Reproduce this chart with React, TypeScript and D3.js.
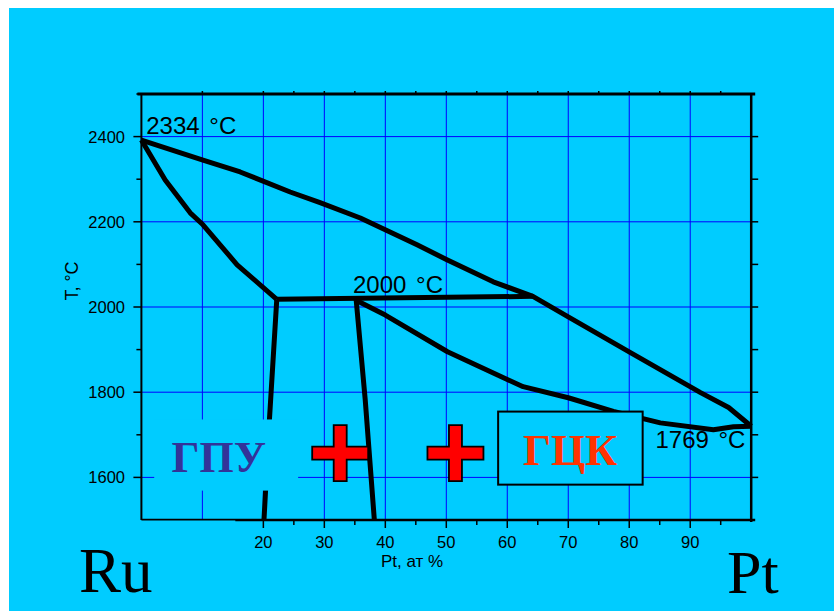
import React from "react";
import * as d3 from "d3";

// Phase boundaries (Pt at.% , T °C)
const liquidusX = [0, 10.1, 16.2, 24.4, 29.3, 35.9, 45.2, 50.1, 57.7, 64.2, 70, 80.2, 91.7, 96.3, 100];
const liquidusT = [2392, 2345, 2317, 2270, 2245, 2209, 2146, 2111, 2059, 2025, 1977, 1893, 1799, 1764, 1720];
const hcpSolidusX = [0, 3.9, 8, 10.1, 15.7, 22.2];
const hcpSolidusT = [2392, 2298, 2221, 2193, 2099, 2018];
const peritecticX = [22.2, 64.2];
const peritecticT = [2018, 2025];
const hcpSolvusX = [22.2, 21.0, 20.1];
const hcpSolvusT = [2018, 1736, 1500];
const fccSolvusX = [35.2, 36.7, 38.2];
const fccSolvusT = [2020, 1783, 1500];
const fccSolidusX = [35.2, 40, 50.2, 60, 62.6, 70, 77.4, 85.1, 93.8, 97.1, 100];
const fccSolidusT = [2016, 1981, 1895, 1830, 1813, 1787, 1755, 1728, 1712, 1719, 1720];

const xTickLabels = [20, 30, 40, 50, 60, 70, 80, 90];
const xMinorTicks = [25, 35, 45, 55, 65, 75, 85, 95];
const xGrid = [10, 20, 30, 40, 50, 60, 70, 80, 90];
const yTickLabels = [1600, 1800, 2000, 2200, 2400];
const yMinorTicks = [1700, 1900, 2100, 2300];

const annotations = [
  { text: "2334 °C", x: 0.8, t: 2405 },
  { text: "2000 °C", x: 34.7, t: 2032 },
  { text: "1769 °C", x: 84.3, t: 1669 },
];

const BG = "#00CCFF";

export default function App() {
  const W = 834, H = 611;
  const x = d3.scaleLinear().domain([0, 100]).range([141.4, 751.2]);
  const y = d3.scaleLinear().domain([1500, 2500]).range([520, 94]);

  const mk = (xs: number[], ts: number[]) =>
    d3.line<number>().x((_, i) => x(xs[i])).y((_, i) => y(ts[i]))(xs.map((_, i) => i)) || "";

  const curves = [
    mk(liquidusX, liquidusT),
    mk(hcpSolidusX, hcpSolidusT),
    mk(peritecticX, peritecticT),
    mk(hcpSolvusX, hcpSolvusT),
    mk(fccSolvusX, fccSolvusT),
    mk(fccSolidusX, fccSolidusT),
  ];

  const [x0, x1] = x.range();
  const yTop = y(2500), yBot = y(1500);

  const cross = (cx: number, ct: number) => {
    const px = x(cx), py = y(ct);
    const a = 28, w = 6.5;
    const pts = [
      [-w, -a], [w, -a], [w, -w], [a, -w], [a, w], [w, w], [w, a], [-w, a], [-w, w], [-a, w], [-a, -w], [-w, -w],
    ].map(([dx, dy]) => `${px + dx},${py + dy}`).join(" ");
    return <polygon points={pts} fill="#FF0000" stroke="#000" strokeWidth={1.8} />;
  };

  const font = "'Liberation Sans', Arial, sans-serif";
  const serif = "'Liberation Serif', 'Times New Roman', serif";

  return (
    <svg width={W} height={H} style={{ position: "absolute", left: 0, top: 0, display: "block" }}>
      <rect x={0} y={0} width={W} height={H} fill="#fff" />
      <rect x={9} y={8} width={W - 9} height={H - 8} fill={BG} />

      {/* grid */}
      {xGrid.map((v) => (
        <line key={"gx" + v} x1={x(v)} x2={x(v)} y1={yTop} y2={yBot} stroke="#0000FF" strokeWidth={1} />
      ))}
      {yTickLabels.map((v) => (
        <line key={"gy" + v} x1={x0} x2={x1} y1={y(v)} y2={y(v)} stroke="#0000FF" strokeWidth={1} />
      ))}

      {/* frame */}
      <line x1={x0 - 4} x2={x1 + 4} y1={yTop} y2={yTop} stroke="#000" strokeWidth={3} />
      <line x1={x0} x2={x0} y1={yTop} y2={yBot} stroke="#000" strokeWidth={2} />
      <line x1={x1} x2={x1} y1={yTop} y2={yBot + 2} stroke="#000" strokeWidth={2.5} />
      <line x1={x0} x2={x1 + 4} y1={yBot} y2={yBot} stroke="#000" strokeWidth={2.5} />

      {/* top ticks */}
      {[...xGrid, ...xMinorTicks].map((v) => (
        <line key={"tt" + v} x1={x(v)} x2={x(v)} y1={yTop} y2={yTop - 3} stroke="#000" strokeWidth={1.5} />
      ))}
      {/* bottom ticks */}
      {xGrid.map((v) => (
        <line key={"bt" + v} x1={x(v)} x2={x(v)} y1={yBot} y2={yBot + 8} stroke="#000" strokeWidth={1.5} />
      ))}
      {xMinorTicks.map((v) => (
        <line key={"bm" + v} x1={x(v)} x2={x(v)} y1={yBot} y2={yBot + 5} stroke="#000" strokeWidth={1.5} />
      ))}
      {xTickLabels.map((v) => (
        <text key={"bl" + v} x={x(v)} y={548} textAnchor="middle" fontFamily={font} fontSize={16.5} fill="#000">
          {v}
        </text>
      ))}
      {/* left ticks */}
      {yTickLabels.map((v) => (
        <line key={"lt" + v} x1={x0} x2={x0 - 8} y1={y(v)} y2={y(v)} stroke="#000" strokeWidth={1.5} />
      ))}
      {[...yMinorTicks, 2500].map((v) => (
        <line key={"lm" + v} x1={x0} x2={x0 - 5} y1={y(v)} y2={y(v)} stroke="#000" strokeWidth={1.5} />
      ))}
      {yTickLabels.map((v) => (
        <text key={"ll" + v} x={125} y={y(v) + 6} textAnchor="end" fontFamily={font} fontSize={16.5} fill="#000">
          {v}
        </text>
      ))}
      {/* right ticks */}
      {[...yTickLabels, ...yMinorTicks].map((v) => (
        <line key={"rt" + v} x1={x1} x2={x1 + 7} y1={y(v)} y2={y(v)} stroke="#000" strokeWidth={1.5} />
      ))}

      {/* axis titles */}
      <text x={412} y={567} textAnchor="middle" fontFamily={font} fontSize={17} fill="#000">
        Pt, ат %
      </text>
      <text transform={`translate(78,281) rotate(-90)`} textAnchor="middle" fontFamily={font} fontSize={18} fill="#000">
        T, °C
      </text>

      {/* phase boundaries */}
      {curves.map((d, i) => (
        <path key={"c" + i} d={d} fill="none" stroke="#000" strokeWidth={5} strokeLinejoin="round" strokeLinecap="butt" />
      ))}

      {/* label covers */}
      <rect x={x(2.1)} y={y(1736)} width={x(25.7) - x(2.1)} height={y(1569) - y(1736)} fill={BG} />
      <rect x={20} y={yBot + 0.5} width={x(15.4) - 20} height={80} fill={BG} />

      <text x={x(12.7)} y={472} textAnchor="middle" fontFamily={serif} fontWeight="bold" fontSize={44} fill="#333399">
        ГПУ
      </text>

      {cross(32.6, 1657)}
      {cross(51.5, 1657)}

      <rect x={x(58.5)} y={y(1754.5)} width={x(82.2) - x(58.5)} height={y(1583) - y(1754.5)} fill={BG} stroke="#000" strokeWidth={2} />
      <text x={x(70.3)} y={465} textAnchor="middle" fontFamily={serif} fontWeight="bold" fontSize={44} fill="#FF3300">
        ГЦК
      </text>

      {annotations.map((a) => (
        <text key={a.text} x={x(a.x)} y={y(a.t)} fontFamily={font} fontSize={24} wordSpacing={3} fill="#000">
          {a.text}
        </text>
      ))}

      <text x={79} y={592} fontFamily={serif} fontSize={63} fill="#000">Ru</text>
      <text x={727} y={593} fontFamily={serif} fontSize={62} fill="#000">Pt</text>
    </svg>
  );
}
